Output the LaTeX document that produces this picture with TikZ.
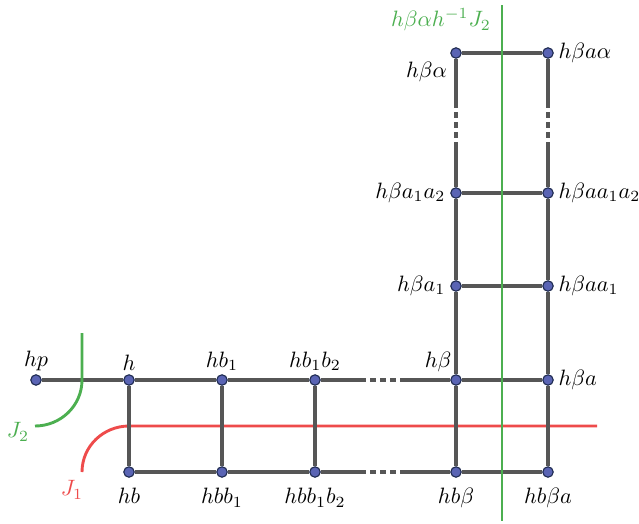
\documentclass[tikz,border=0pt]{standalone}
\usepackage{amsmath}
\usetikzlibrary{positioning, calc}

\definecolor{edgegray}{HTML}{565656}
\definecolor{dotblue}{HTML}{5A64B4}
\definecolor{dotline}{HTML}{1E2A50}
\definecolor{jred}{HTML}{EE4B4B}
\definecolor{jgreen}{HTML}{4CAF50}

\begin{document}
\begin{tikzpicture}[
  x=0.45pt, y=-0.45pt,
  dot/.style={circle, draw=dotline, line width=0.5pt, fill=dotblue, minimum size=4.7pt, inner sep=0pt},
  lbl/.style={inner sep=1pt},
  edge/.style={draw=edgegray, line width=1.5pt},
  gap/.style={edge, dash pattern=on 2.5pt off 2pt, dash phase=2.5pt},
  redline/.style={draw=jred, line width=1.3pt},
  greenline/.style={draw=jgreen, line width=1.3pt}]

\useasboundingbox (0,0) rectangle (639,523);

% ---------- red curve J_1 (below everything)
\coordinate (r0) at (82,472);
\coordinate (r1) at (129,426);
\coordinate (r2) at (597,426);
\draw[redline] (r0) .. controls (82,446.3) and (103.3,426) .. (r1) -- (r2);
\node[lbl, text=jred] (J1) at (72,490) {$J_1$};

% ---------- bottom row
\node[dot] (hp)    at (36,380)  {};
\node[dot] (h)     at (129,380) {};
\node[dot] (hb1)   at (222,380) {};
\node[dot] (hb1b2) at (315,380) {};
\node[dot] (hbeta) at (456,380) {};
\node[dot] (hbetaa) at (548,380) {};

\node[dot] (hb)      at (129,472) {};
\node[dot] (hbb1)    at (222,472) {};
\node[dot] (hbb1b2)  at (315,472) {};
\node[dot] (hbbeta)  at (456,472) {};
\node[dot] (hbbetaa) at (548,472) {};

% ---------- ladder going up
\node[dot] (ha1)    at (456,286) {};
\node[dot] (haa1)   at (548,286) {};
\node[dot] (ha12)   at (456,193) {};
\node[dot] (haa12)  at (548,193) {};
\node[dot] (halpha) at (456,53)  {};
\node[dot] (haalpha) at (548,53) {};

% ---------- where the dashes start and stop
\coordinate (t1) at (366,380);
\coordinate (t2) at (404,380);
\coordinate (b1) at (366,472);
\coordinate (b2) at (404,472);
\coordinate (l1) at (456,142);
\coordinate (l2) at (456,104);
\coordinate (m1) at (548,142);
\coordinate (m2) at (548,104);

% ---------- edges
\draw[edge] (hp) -- (h) -- (hb1) -- (hb1b2) -- (t1);
\draw[gap]  (t1) -- (t2);
\draw[edge] (t2) -- (hbeta) -- (hbetaa);
\draw[edge] (hb) -- (hbb1) -- (hbb1b2) -- (b1);
\draw[gap]  (b1) -- (b2);
\draw[edge] (b2) -- (hbbeta) -- (hbbetaa);

\draw[edge] (h) -- (hb);
\draw[edge] (hb1) -- (hbb1);
\draw[edge] (hb1b2) -- (hbb1b2);
\draw[edge] (hbeta) -- (hbbeta);
\draw[edge] (hbetaa) -- (hbbetaa);

\draw[edge] (hbeta) -- (ha1) -- (ha12) -- (l1);
\draw[gap]  (l1) -- (l2);
\draw[edge] (l2) -- (halpha);
\draw[edge] (hbetaa) -- (haa1) -- (haa12) -- (m1);
\draw[gap]  (m1) -- (m2);
\draw[edge] (m2) -- (haalpha);

\draw[edge] (ha1) -- (haa1);
\draw[edge] (ha12) -- (haa12);
\draw[edge] (halpha) -- (haalpha);

% ---------- green curves J_2 and its translate
\coordinate (g0) at (82,333);
\coordinate (g1) at (82,380);
\coordinate (g2) at (35,426);
\draw[greenline] (g0) -- (g1) .. controls (82,405.7) and (60.7,426) .. (g2);
\node[lbl, text=jgreen] (J2) at (18,432) {$J_2$};

\coordinate (s0) at (502,5);
\coordinate (s1) at (502,521);
\draw[greenline] (s0) -- (s1);
\node[lbl, text=jgreen] (J2t) at (441,20) {$h\beta\alpha h^{-1}J_2$};

% ---------- vertex labels
\node[lbl, above=0.5pt of hp]     {$hp$};
\node[lbl, above=0.5pt of h]      {$h$};
\node[lbl, above=0.5pt of hb1]    {$hb_1$};
\node[lbl, above=0.5pt of hb1b2]  {$hb_1b_2$};
\node[lbl, above left=0.5pt and -1pt of hbeta] {$h\beta$};
\node[lbl, right=1pt of hbetaa] {$h\beta a$};

\node[lbl, below=3.5pt of hb]      {$hb$};
\node[lbl, below=3.5pt of hbb1]    {$hbb_1$};
\node[lbl, below=3.5pt of hbb1b2]  {$hbb_1b_2$};
\node[lbl, below=3.5pt of hbbeta]  {$hb\beta$};
\node[lbl, below=3.5pt of hbbetaa] {$hb\beta a$};

\node[lbl, left=1pt of ha1]    {$h\beta a_1$};
\node[lbl, right=1pt of haa1]  {$h\beta aa_1$};
\node[lbl, left=1pt of ha12]   {$h\beta a_1a_2$};
\node[lbl, right=1pt of haa12] {$h\beta aa_1a_2$};
\node[lbl, below left=1pt and 1pt of halpha] {$h\beta\alpha$};
\node[lbl, right=1pt of haalpha] {$h\beta a\alpha$};
\end{tikzpicture}
\end{document}
